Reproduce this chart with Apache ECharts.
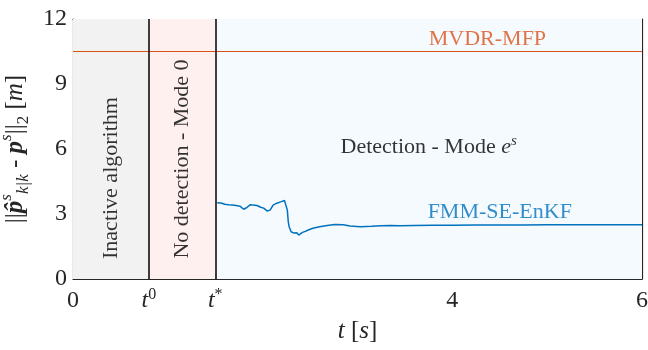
<!DOCTYPE html>
<html><head><meta charset="utf-8">
<script src="https://cdn.jsdelivr.net/npm/echarts@6/dist/echarts.min.js"></script>
<style>html,body{margin:0;padding:0;background:#fff}#c{width:648px;height:350px}</style>
</head><body><div id="c"></div>
<script>
// ---- data ----
const tVals = [1.52,1.54,1.56,1.58,1.60,1.62,1.64,1.66,1.68,1.70,1.72,1.74,1.76,1.78,1.80,1.81,1.83,1.85,1.87,1.89,1.90,1.92,1.94,1.96,1.98,1.99,2.01,2.03,2.05,2.06,2.08,2.10,2.11,2.13,2.15,2.17,2.19,2.21,2.23,2.24,2.25,2.26,2.27,2.28,2.30,2.32,2.33,2.35,2.36,2.38,2.40,2.42,2.45,2.48,2.53,2.60,2.68,2.76,2.85,2.92,3.03,3.15,3.24,3.35,3.45,3.60,3.80,4.00,4.25,4.50,4.75,5.00,5.25,5.50,5.75,6.00];
const errVals = [3.52,3.49,3.51,3.47,3.45,3.47,3.43,3.41,3.42,3.38,3.39,3.35,3.36,3.31,3.22,3.16,3.29,3.33,3.43,3.34,3.41,3.33,3.39,3.32,3.31,3.23,3.27,3.19,3.13,3.10,3.19,3.24,3.41,3.47,3.50,3.48,3.56,3.53,3.62,3.66,3.55,3.18,2.64,2.40,2.18,2.15,2.12,2.18,2.13,2.03,2.09,2.15,2.20,2.26,2.34,2.41,2.47,2.52,2.50,2.45,2.41,2.43,2.46,2.47,2.46,2.47,2.48,2.48,2.49,2.49,2.49,2.50,2.50,2.50,2.50,2.50];
const mvdrT = [0, 6];
const mvdrVals = [10.5, 10.5];
const phaseBounds = [0, 0.8, 1.5, 6];
const eventTimes = [0.8, 1.5];
const xTickVals = [0, 0.8, 1.5, 4, 6];
const xTickLabels = ['0', 't0', 't*', '4', '6'];
const yTickVals = [0, 3, 6, 9, 12];
const annotTexts = ['Inactive algorithm', 'No detection - Mode 0', 'Detection - Mode e^s', 'MVDR-MFP', 'FMM-SE-EnKF'];
const annotT = [0.40, 1.15, 3.75, 4.37, 4.5];
const annotY = [4.66, 5.54, 6.09, 11.07, 3.07];

// ---- styles ----
const SERIF = '"Liberation Serif", "DejaVu Serif", serif';
const phaseColors = ['#f2f2f2', '#fff0f0', '#f5faff'];
const annotColors = ['#000000', '#000000', '#000000', '#d95319', '#0072bd'];
const annotRotate = [90, 90, 0, 0, 0];
const AX = '#262626';

function xLabelRich(v) {
  const i = xTickVals.findIndex(x => Math.abs(x - v) < 1e-6);
  if (i < 0) return '';
  const s = xTickLabels[i];
  if (s === 't0') return '{i|t}{sup|0}';
  if (s === 't*') return '{i|t}{sup|*}';
  return '{n|' + s + '}';
}
function annotRich(s) {
  if (s === 'Detection - Mode e^s') return '{n|Detection - Mode }{i|e}{sup|s}';
  return '{n|' + s + '}';
}

const chart = echarts.init(document.getElementById('c'), null, {renderer: 'canvas'});
const lineData = tVals.map((t, i) => [t, errVals[i]]);
const mvdrData = mvdrT.map((t, i) => [t, mvdrVals[i]]);
const areas = [];
for (let i = 0; i < phaseBounds.length - 1; i++) {
  areas.push([{xAxis: phaseBounds[i], yAxis: 0, itemStyle: {color: phaseColors[i], opacity: 1}}, {xAxis: phaseBounds[i + 1], yAxis: 12}]);
}
const annotData = annotTexts.map((s, i) => ({
  value: [annotT[i], annotY[i]],
  label: {
    show: true, position: 'inside', rotate: annotRotate[i],
    formatter: annotRich(s),
    rich: {
      n: {fontFamily: SERIF, fontSize: 22, color: annotColors[i], lineHeight: 26},
      i: {fontFamily: SERIF, fontStyle: 'italic', fontSize: 22, color: annotColors[i], lineHeight: 26},
      sup: {fontFamily: SERIF, fontStyle: 'italic', fontSize: 15, color: annotColors[i], verticalAlign: 'top', lineHeight: 14}
    }
  }
}));

const yNameRich = {
  a: {fontFamily: SERIF, fontSize: 25, color: AX, lineHeight: 34},
  p: {fontFamily: SERIF, fontSize: 25, fontWeight: 'bold', fontStyle: 'italic', color: AX, lineHeight: 34},
  i: {fontFamily: SERIF, fontSize: 25, fontStyle: 'italic', color: AX, lineHeight: 34},
  sup: {fontFamily: SERIF, fontSize: 17, fontStyle: 'italic', color: AX, verticalAlign: 'top', lineHeight: 16},
  sub: {fontFamily: SERIF, fontSize: 17, fontStyle: 'italic', color: AX, verticalAlign: 'bottom', lineHeight: 16},
  subn: {fontFamily: SERIF, fontSize: 17, color: AX, verticalAlign: 'bottom', lineHeight: 16}
};

chart.setOption({
  animation: false,
  backgroundColor: '#ffffff',
  grid: {left: 73, right: 6, top: 19, bottom: 71, containLabel: false, outerBoundsMode: 'none'},
  xAxis: [{
    type: 'value', min: 0, max: 6, position: 'bottom',
    splitLine: {show: false},
    axisLine: {show: true, onZero: false, lineStyle: {color: AX, width: 1.2}},
    axisTick: {show: true, inside: true, length: 5, customValues: xTickVals, lineStyle: {color: AX}},
    axisLabel: {
      customValues: xTickVals, margin: 8,
      formatter: v => xLabelRich(v),
      rich: {
        n: {fontFamily: SERIF, fontSize: 24, color: AX, lineHeight: 28},
        i: {fontFamily: SERIF, fontSize: 24, fontStyle: 'italic', color: AX, lineHeight: 28},
        sup: {fontFamily: SERIF, fontSize: 16, color: AX, verticalAlign: 'top', lineHeight: 16}
      }
    },
    name: '{i|t}{a| [}{i|s}{a|]}', nameLocation: 'middle', nameGap: 40,
    nameTextStyle: {rich: {
      a: {fontFamily: SERIF, fontSize: 25, color: AX},
      i: {fontFamily: SERIF, fontSize: 25, fontStyle: 'italic', color: AX}
    }}
  }, {
    type: 'value', min: 0, max: 6, position: 'top',
    splitLine: {show: false},
    axisLine: {show: true, onZero: false, lineStyle: {color: AX, width: 1.2}},
    axisTick: {show: true, inside: true, length: 5, customValues: [4], lineStyle: {color: AX}},
    axisLabel: {show: false}
  }],
  yAxis: [{
    type: 'value', min: 0, max: 12, interval: 3, position: 'left',
    splitLine: {show: false},
    axisLine: {show: true, onZero: false, lineStyle: {color: AX, width: 1.2}},
    axisTick: {show: true, inside: true, length: 5, lineStyle: {color: AX}},
    axisLabel: {fontFamily: SERIF, fontSize: 24, color: AX, margin: 6},
    name: '{a|||}{p|p\u0302}{sup|s}{sub|k|k}{a| - }{p|p}{sup|s}{a|||}{subn|2}{a| [}{i|m}{a|]}',
    nameLocation: 'middle', nameRotate: 90, nameGap: 36,
    nameTextStyle: {rich: yNameRich}
  }, {
    type: 'value', min: 0, max: 12, interval: 3, position: 'right',
    splitLine: {show: false},
    axisLine: {show: true, onZero: false, lineStyle: {color: AX, width: 1.2}},
    axisTick: {show: true, inside: true, length: 5, lineStyle: {color: AX}},
    axisLabel: {show: false}
  }],
  series: [{
    name: 'phases', type: 'line', data: [], xAxisIndex: 0, yAxisIndex: 0,
    markArea: {silent: true, data: areas, label: {show: false}},
    z: 1
  }, {
    name: 'events', type: 'line', data: [], z: 3,
    markLine: {
      silent: true, symbol: 'none', label: {show: false},
      lineStyle: {color: '#000000', width: 1.5, type: 'solid'},
      data: eventTimes.map(t => ({xAxis: t}))
    }
  }, {
    name: 'MVDR-MFP', type: 'line', data: mvdrData, showSymbol: false, z: 4,
    lineStyle: {color: '#d95319', width: 1.1}, itemStyle: {color: '#d95319'}
  }, {
    name: 'FMM-SE-EnKF', type: 'line', data: lineData, showSymbol: false, z: 5,
    lineStyle: {color: '#0072bd', width: 1.5}, itemStyle: {color: '#0072bd'}
  }, {
    name: 'annot', type: 'scatter', data: annotData, symbolSize: 0, z: 6, silent: true
  }]
});
</script>
</body></html>
